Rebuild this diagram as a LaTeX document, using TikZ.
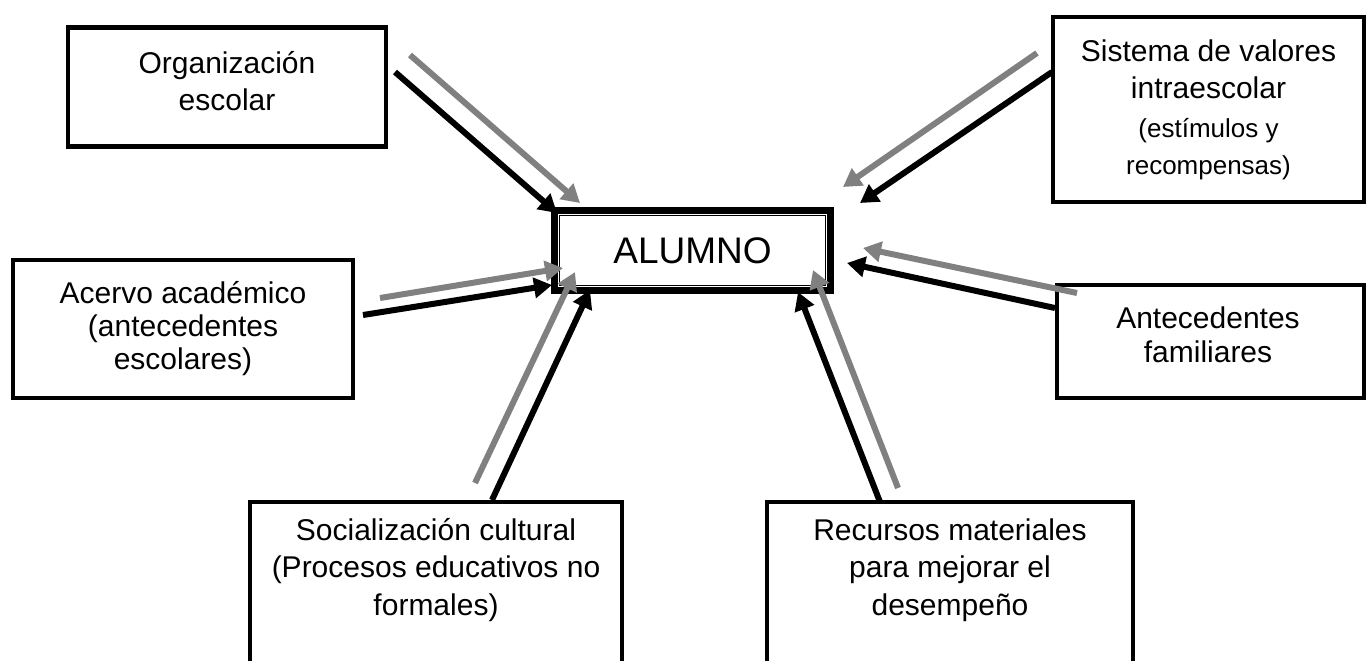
\documentclass[tikz,border=0pt]{standalone}
\usepackage{fontspec}
\setmainfont{Liberation Sans}
\usetikzlibrary{arrows.meta,positioning}

\newcommand{\smtxt}{\fontsize{13}{15}\selectfont}

\tikzset{
  box/.style={draw, line width=2.2pt, inner sep=0pt},
  txt/.style={align=center, font=\fontsize{15}{18.5}\selectfont},
  blk/.style={-{Triangle[length=9pt,width=10pt]}, line width=3pt},
  gry/.style={blk, draw=gray, fill=gray}
}

\begin{document}
\begin{tikzpicture}[x=0.5pt,y=-0.5pt]
   \useasboundingbox (0,0) rectangle (1368,660);
   \clip (0,0) rectangle (1368,660);

   \node[box, line width=3.4pt, minimum width=138pt, minimum height=40pt,
         font=\fontsize{18.5}{22}\selectfont] (alumno) at (692.5,250.5) {ALUMNO};
   \draw[line width=0.8pt] ([shift={(8.5,8.5)}]alumno.north west) rectangle ([shift={(-8.5,-8.5)}]alumno.south east);

   \node[box, minimum width=159pt, minimum height=59.5pt] (org) at (227,87) {};
   \node[txt] (orgtxt) at (227,81) {Organización\\escolar};
   \node[box, txt, minimum width=155.5pt, minimum height=92.5pt] (sis) at (1208.5,109.5)
        {Sistema de valores\\intraescolar\\[1pt]\smtxt(estímulos y\\\smtxt recompensas)};
   \node[box, txt, font=\fontsize{15}{16.5}\selectfont, minimum width=170pt, minimum height=69pt]
        (acv) at (183,329) {Acervo académico\\(antecedentes\\escolares)};
   \node[box, minimum width=153.5pt, minimum height=56.5pt] (ant) at (1210.5,341.5) {};
   \node[txt, font=\fontsize{15}{17}\selectfont] (anttxt) at (1208,335) {Antecedentes\\familiares};
   \node[box, minimum width=186pt, minimum height=109pt] (soc) at (436,611) {};
   \node[txt, font=\fontsize{15}{18.75}\selectfont] (soctxt) at (436,570)
        {Socialización cultural\\(Procesos educativos no\\formales)};
   \node[box, minimum width=183pt, minimum height=109pt] (rec) at (950,611) {};
   \node[txt, font=\fontsize{15}{18.75}\selectfont] (rectxt) at (950,570)
        {Recursos materiales\\para mejorar el\\desempeño};

   % arrow ends (K black, G gray)
   \coordinate (orgK) at (395,72);   \coordinate (aorgK) at (557,213);
   \coordinate (orgG) at (410,55);   \coordinate (aorgG) at (580,203);
   \coordinate (sisK) at (1052,72);  \coordinate (asisK) at (860,203);
   \coordinate (sisG) at (1037,53);  \coordinate (asisG) at (843,187);
   \coordinate (acvK) at (363,315);  \coordinate (aacvK) at (552,285);
   \coordinate (acvG) at (380,298);  \coordinate (aacvG) at (563,268);
   \coordinate (antK) at (1055,308); \coordinate (aantK) at (847,263);
   \coordinate (antG) at (1077,293); \coordinate (aantG) at (863,248);
   \coordinate (socK) at (492,500);  \coordinate (asocK) at (590,290);
   \coordinate (socG) at (475,483);  \coordinate (asocG) at (575,272);
   \coordinate (recK) at (880,502);  \coordinate (arecK) at (798,292);
   \coordinate (recG) at (898,488);  \coordinate (arecG) at (813,270);

   \foreach \src in {org,sis,acv,ant,soc,rec}{
      \draw[blk] (\src K) -- (a\src K);
      \draw[gry] (\src G) -- (a\src G);
   }
\end{tikzpicture}
\end{document}
